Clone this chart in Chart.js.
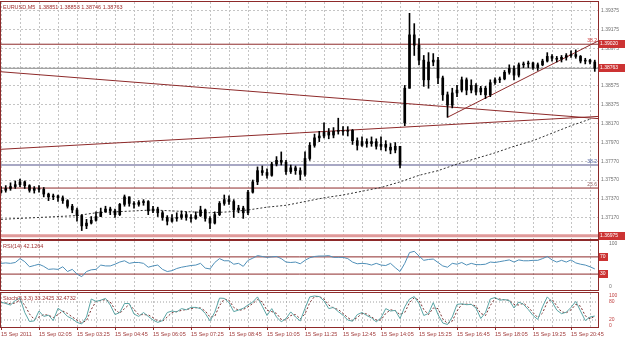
<!DOCTYPE html>
<html>
<head>
<meta charset="utf-8">
<script src="https://cdn.jsdelivr.net/npm/chart.js@4.4.0/dist/chart.umd.min.js"></script>
<style>
  body { margin: 0; background: #fff; width: 625px; height: 342px; overflow: hidden; position: relative; }
  canvas { position: absolute; left: 0; }
</style>
</head>
<body>
<canvas id="priceChart" width="625" height="240" style="top:0"></canvas>
<canvas id="rsiChart" width="625" height="51" style="top:240px"></canvas>
<canvas id="stochChart" width="625" height="51" style="top:291px"></canvas>
<script>
// ---------- datos (EURUSD M5, velas agrupadas de 10 min) ----------
const open = [
  1.3744, 1.3746, 1.3748, 1.3750, 1.3752, 1.3755, 1.3751, 1.3746, 1.3748, 1.3747,
  1.3742, 1.3739, 1.3740, 1.3738, 1.3735, 1.3729, 1.3725, 1.3719, 1.3708, 1.3711,
  1.3714, 1.3718, 1.3723, 1.3726, 1.3724, 1.3720, 1.3731, 1.3739, 1.3732, 1.3731,
  1.3733, 1.3734, 1.3724, 1.3726, 1.3722, 1.3717, 1.3713, 1.3716, 1.3717, 1.3720,
  1.3717, 1.3716, 1.3719, 1.3725, 1.3716, 1.3711, 1.3720, 1.3732, 1.3736, 1.3734,
  1.3725, 1.3727, 1.3722, 1.3744, 1.3755, 1.3767, 1.3765, 1.3762, 1.3774, 1.3778,
  1.3776, 1.3766, 1.3770, 1.3767, 1.3763, 1.3780, 1.3794, 1.3802, 1.3804, 1.3808,
  1.3805, 1.3809, 1.3810, 1.3809, 1.3810, 1.3799, 1.3794, 1.3798, 1.3796, 1.3798,
  1.3793, 1.3795, 1.3792, 1.3789, 1.3793, 1.3818, 1.3855, 1.3912, 1.3901, 1.3885,
  1.3864, 1.3883, 1.3885, 1.3866, 1.3848, 1.3837, 1.3850, 1.3853, 1.3864, 1.3853,
  1.3858, 1.3851, 1.3855, 1.3848, 1.3861, 1.3864, 1.3865, 1.3872, 1.3876, 1.3869,
  1.3880, 1.3881, 1.3882, 1.3877, 1.3880, 1.3884, 1.3889, 1.3887, 1.3886, 1.3888,
  1.3890, 1.3891, 1.3889, 1.3884, 1.3885, 1.3883
]
const high = [
  1.3750, 1.3751, 1.3754, 1.3756, 1.3758, 1.3756, 1.3752, 1.3750, 1.3751, 1.3749,
  1.3743, 1.3742, 1.3741, 1.3740, 1.3736, 1.3731, 1.3727, 1.3720, 1.3715, 1.3718,
  1.3723, 1.3727, 1.3729, 1.3728, 1.3726, 1.3732, 1.3741, 1.3739, 1.3734, 1.3735,
  1.3736, 1.3735, 1.3729, 1.3728, 1.3724, 1.3719, 1.3720, 1.3722, 1.3724, 1.3723,
  1.3720, 1.3723, 1.3729, 1.3726, 1.3718, 1.3723, 1.3734, 1.3741, 1.3740, 1.3736,
  1.3730, 1.3729, 1.3746, 1.3757, 1.3771, 1.3772, 1.3769, 1.3776, 1.3782, 1.3787,
  1.3778, 1.3773, 1.3772, 1.3770, 1.3787, 1.3797, 1.3806, 1.3809, 1.3818, 1.3812,
  1.3813, 1.3823, 1.3814, 1.3814, 1.3811, 1.3802, 1.3803, 1.3801, 1.3803, 1.3801,
  1.3803, 1.3799, 1.3796, 1.3797, 1.3793, 1.3858, 1.3935, 1.3924, 1.3908, 1.3890,
  1.3893, 1.3892, 1.3888, 1.3868, 1.3851, 1.3855, 1.3858, 1.3867, 1.3866, 1.3864,
  1.3860, 1.3857, 1.3857, 1.3864, 1.3866, 1.3867, 1.3874, 1.3880, 1.3879, 1.3882,
  1.3883, 1.3884, 1.3883, 1.3882, 1.3886, 1.3893, 1.3891, 1.3889, 1.3890, 1.3892,
  1.3895, 1.3896, 1.3890, 1.3887, 1.3886, 1.3885
]
const low = [
  1.3743, 1.3744, 1.3746, 1.3748, 1.3750, 1.3748, 1.3744, 1.3743, 1.3744, 1.3739,
  1.3735, 1.3736, 1.3734, 1.3732, 1.3727, 1.3722, 1.3713, 1.3703, 1.3705, 1.3710,
  1.3713, 1.3718, 1.3723, 1.3720, 1.3717, 1.3719, 1.3729, 1.3729, 1.3727, 1.3729,
  1.3730, 1.3720, 1.3722, 1.3718, 1.3714, 1.3709, 1.3712, 1.3713, 1.3715, 1.3714,
  1.3712, 1.3715, 1.3718, 1.3713, 1.3705, 1.3710, 1.3719, 1.3730, 1.3731, 1.3717,
  1.3722, 1.3716, 1.3720, 1.3743, 1.3752, 1.3762, 1.3759, 1.3761, 1.3772, 1.3773,
  1.3763, 1.3764, 1.3763, 1.3757, 1.3761, 1.3778, 1.3792, 1.3798, 1.3802, 1.3801,
  1.3802, 1.3806, 1.3805, 1.3804, 1.3795, 1.3789, 1.3793, 1.3792, 1.3793, 1.3790,
  1.3789, 1.3788, 1.3785, 1.3786, 1.3770, 1.3815, 1.3855, 1.3890, 1.3880, 1.3857,
  1.3855, 1.3879, 1.3860, 1.3842, 1.3824, 1.3834, 1.3846, 1.3851, 1.3848, 1.3850,
  1.3848, 1.3848, 1.3844, 1.3846, 1.3859, 1.3861, 1.3864, 1.3870, 1.3864, 1.3867,
  1.3877, 1.3877, 1.3875, 1.3874, 1.3879, 1.3883, 1.3884, 1.3883, 1.3883, 1.3885,
  1.3888, 1.3887, 1.3882, 1.3881, 1.3881, 1.3873
]
const close = [
  1.3746, 1.3748, 1.3750, 1.3752, 1.3755, 1.3751, 1.3746, 1.3748, 1.3747, 1.3742,
  1.3739, 1.3740, 1.3738, 1.3735, 1.3729, 1.3725, 1.3719, 1.3708, 1.3711, 1.3714,
  1.3718, 1.3723, 1.3726, 1.3724, 1.3720, 1.3731, 1.3739, 1.3732, 1.3731, 1.3733,
  1.3734, 1.3724, 1.3726, 1.3722, 1.3717, 1.3713, 1.3716, 1.3717, 1.3720, 1.3717,
  1.3716, 1.3719, 1.3725, 1.3716, 1.3711, 1.3720, 1.3732, 1.3736, 1.3734, 1.3725,
  1.3727, 1.3722, 1.3744, 1.3755, 1.3767, 1.3765, 1.3762, 1.3774, 1.3778, 1.3776,
  1.3766, 1.3770, 1.3767, 1.3763, 1.3780, 1.3794, 1.3802, 1.3804, 1.3808, 1.3805,
  1.3809, 1.3810, 1.3809, 1.3810, 1.3799, 1.3794, 1.3798, 1.3796, 1.3798, 1.3793,
  1.3795, 1.3792, 1.3789, 1.3793, 1.3773, 1.3855, 1.3912, 1.3901, 1.3885, 1.3864,
  1.3883, 1.3885, 1.3866, 1.3848, 1.3837, 1.3850, 1.3853, 1.3864, 1.3853, 1.3858,
  1.3851, 1.3855, 1.3848, 1.3861, 1.3864, 1.3865, 1.3872, 1.3876, 1.3869, 1.3880,
  1.3881, 1.3882, 1.3877, 1.3880, 1.3884, 1.3889, 1.3887, 1.3886, 1.3888, 1.3890,
  1.3891, 1.3889, 1.3884, 1.3885, 1.3883, 1.38763
]

// media movil punteada (un valor cada 4 velas)
const maValues = [
  1.3715, 1.3716, 1.3717, 1.3718, 1.3719, 1.3722, 1.3723, 1.3724, 1.3725, 1.3724,
  1.3723, 1.3722, 1.3723, 1.3725, 1.3728, 1.3730, 1.3734, 1.3738, 1.3741, 1.3745,
  1.3749, 1.3755, 1.3762, 1.3767, 1.3774, 1.3780, 1.3786, 1.3793, 1.3799, 1.3807,
  1.3815, 1.3822
]

const rsi = [
  55, 56, 55, 57, 66, 59, 47, 50, 53, 48,
  41, 42, 41, 47, 36, 41, 30, 24, 36, 40,
  41, 51, 49, 49, 53, 58, 61, 55, 57, 57,
  55, 46, 49, 51, 41, 36, 38, 43, 46, 48,
  50, 51, 55, 44, 42, 57, 66, 61, 61, 53,
  55, 48, 62, 67, 73, 71, 69, 70, 71, 66,
  58, 57, 58, 54, 62, 68, 71, 72, 72, 73,
  69, 69, 69, 66, 58, 54, 55, 54, 51, 55,
  51, 50, 55, 45, 36, 55, 80, 83, 72, 62,
  64, 65, 57, 49, 46, 55, 53, 57, 51, 55,
  52, 52, 53, 58, 57, 59, 61, 63, 58, 63,
  61, 61, 62, 62, 66, 71, 63, 58, 62, 58,
  63, 56, 53, 51, 47, 42.1264
]

const stochMain = [
  80, 75, 70, 85, 93, 45, 15, 17, 50, 32,
  36, 18, 59, 48, 32, 24, 12, 7, 30, 90,
  82, 86, 92, 70, 38, 45, 75, 75, 40, 32,
  45, 32, 20, 12, 18, 45, 50, 47, 58, 54,
  62, 62, 58, 42, 17, 46, 93, 92, 78, 48,
  53, 59, 70, 80, 97, 66, 35, 58, 30, 14,
  25, 47, 30, 17, 59, 97, 100, 98, 84, 58,
  62, 48, 36, 20, 16, 38, 45, 35, 27, 14,
  27, 58, 50, 52, 25, 64, 90, 98, 75, 35,
  42, 78, 38, 10, 5, 30, 72, 74, 71, 72,
  60, 25, 45, 90, 95, 86, 88, 85, 60, 80,
  72, 55, 35, 22, 64, 97, 81, 53, 41, 46,
  62, 82, 50, 18, 30, 33.2425
]
const stochSignal = [
  78, 77, 74, 77, 85, 70, 40, 22, 30, 38,
  36, 28, 38, 50, 42, 30, 20, 11, 18, 55,
  82, 85, 88, 80, 55, 42, 58, 72, 55, 38,
  38, 37, 28, 17, 16, 30, 45, 48, 52, 55,
  58, 61, 60, 50, 30, 32, 68, 90, 86, 62,
  52, 55, 64, 75, 88, 80, 52, 48, 42, 22,
  20, 35, 38, 24, 40, 78, 98, 98, 90, 70,
  60, 55, 42, 28, 18, 28, 42, 40, 30, 20,
  20, 42, 54, 51, 38, 45, 78, 94, 86, 55,
  38, 60, 58, 24, 8, 16, 50, 72, 73, 72,
  66, 42, 35, 68, 92, 90, 87, 86, 72, 70,
  76, 63, 45, 28, 43, 80, 89, 67, 47, 44,
  54, 72, 66, 34, 24, 32.4732
]

// etiquetas de tiempo (una cada 8 velas) y del eje de precios
const timeLabels = [
  "15 Sep 2011", "15 Sep 02:05", "15 Sep 03:25", "15 Sep 04:45", "15 Sep 06:05",
  "15 Sep 07:25", "15 Sep 08:45", "15 Sep 10:05", "15 Sep 11:25", "15 Sep 12:45",
  "15 Sep 14:05", "15 Sep 15:25", "15 Sep 16:45", "15 Sep 18:05", "15 Sep 19:25",
  "15 Sep 20:45"
]
const priceTicks = [1.39375, 1.39175, 1.38975, 1.38775, 1.38575, 1.38375, 1.38170, 1.37970, 1.37770, 1.37570, 1.37370, 1.37170]
const priceTickLabels = ["1.39375", "1.39175", "1.38975", "1.38775", "1.38575", "1.38375", "1.38170", "1.37970", "1.37770", "1.37570", "1.37370", "1.37170"]

// objetos dibujados (precio al borde izquierdo / derecho)
const lineaBajista = [1.38726, 1.38226]
const lineaAlcista = [1.37898, 1.38249]
const canalInicio = 94, canalPrecios = [1.3824, 1.39054]
const nivelMax = 1.39020, bid = 1.38763, nivelMin = 1.36975
const fibo382 = 1.37730, fibo236 = 1.37484
const rsiLevels = [70, 30]
const stochLevels = [80, 20]

const simbolo = "EURUSD,M5"
const ultimaBarra = ["1.38851", "1.38853", "1.38746", "1.38763"]
const rsiTexto = "RSI(14) 42.1264"
const stochTexto = "Stoch(5,3,3) 33.2425 32.4732"

// ---------- estilos ----------
const FONT = "'Liberation Sans', Arial, sans-serif"
const MARRON = "#8e2a2a"
const ROJO = "#cc3333"
const GRID = "#c4c4c4"
const X_MAX = 125.68
const gridIdx = []
for (let i = 0; i <= 124; i += 4) gridIdx.push(i)

function hLine(value, color, width, dash) {
  return {
    type: "line",
    data: [{x: 0, y: value}, {x: X_MAX, y: value}],
    borderColor: color, borderWidth: width, borderDash: dash || [],
    pointRadius: 0, order: 3
  }
}

function noPadding(s) {
  s.paddingTop = 0
  s.paddingBottom = 0
  s.paddingLeft = 0
  s.paddingRight = 0
}

function xScale(showLabels) {
  return {
    type: "linear", min: 0, max: X_MAX, offset: false,
    afterBuildTicks: s => { s.ticks = gridIdx.map(v => ({value: v})) },
    afterFit: s => { s.height = showLabels ? 15 : 0; noPadding(s) },
    ticks: {
      display: showLabels, autoSkip: false, maxRotation: 0, align: "start", padding: 1,
      font: {family: FONT, size: 5.5}, color: "#a03a3a",
      callback: v => (v % 8 === 0 ? timeLabels[v / 8] : "")
    },
    grid: {
      color: GRID, drawTicks: showLabels, tickLength: 3, offset: false,
      tickColor: ctx => (ctx.tick && ctx.tick.value % 8 === 0 ? MARRON : "rgba(0,0,0,0)")
    },
    border: {display: false, dash: [2, 2]}
  }
}

function yScale(min, max, ticks, extra) {
  return Object.assign({
    position: "right", min: min, max: max,
    afterBuildTicks: s => { s.ticks = ticks.map(v => ({value: v})) },
    afterFit: s => { s.width = 27; noPadding(s) },
    grid: {display: false},
    border: {display: false}
  }, extra)
}

function drawTag(ctx, text, x, y, w) {
  ctx.fillStyle = ROJO
  ctx.fillRect(x, Math.round(y) - 4, w, 8)
  ctx.fillStyle = "#fff"
  ctx.textAlign = "left"
  ctx.textBaseline = "middle"
  ctx.fillText(text, x + 1, Math.round(y))
}

function drawFrame(ctx, a) {
  ctx.strokeStyle = MARRON
  ctx.lineWidth = 1
  ctx.strokeRect(a.left - 0.5, a.top - 0.5, a.right - a.left + 1, a.bottom - a.top + 1)
}

const baseOpts = {
  responsive: false, animation: false, events: [],
  plugins: {legend: {display: false}, tooltip: {enabled: false}}
}

// ---------- grafico de precios ----------
const priceOverlay = {
  id: "priceOverlay",
  afterDraw(chart) {
    const {ctx, chartArea: a, scales: {y}} = chart
    ctx.save()
    drawFrame(ctx, a)
    ctx.font = "5.5px " + FONT
    ctx.fillStyle = "#a03030"
    ctx.textBaseline = "middle"
    ctx.fillText(simbolo + "  " + ultimaBarra.join(" "), a.left + 2, a.top + 5)
    ctx.font = "5px " + FONT
    ctx.textAlign = "right"
    ctx.fillStyle = "#5060a0"
    ctx.fillText("38.2", a.right - 1, y.getPixelForValue(fibo382) - 3)
    ctx.fillStyle = "#906060"
    ctx.fillText("23.6", a.right - 1, y.getPixelForValue(fibo236) - 3)
    ctx.fillStyle = ROJO
    ctx.fillText("38.2", a.right - 1, y.getPixelForValue(canalPrecios[1]))
    drawTag(ctx, "1.39020", a.right + 1, y.getPixelForValue(nivelMax), 26)
    drawTag(ctx, "1.38763", a.right + 1, y.getPixelForValue(bid), 26)
    drawTag(ctx, "1.36975", a.right + 1, y.getPixelForValue(nivelMin), 26)
    ctx.restore()
  }
}

new Chart(document.getElementById("priceChart"), {
  type: "bar",
  data: {
    datasets: [
      {
        data: low.map((l, i) => ({x: i, y: [l, high[i]]})),
        backgroundColor: "#000", barThickness: 1, grouped: false, order: 1
      },
      {
        data: open.map((o, i) => ({x: i, y: [o, close[i]]})),
        backgroundColor: "#000",
        borderColor: "#000", borderWidth: 0,
        barThickness: 2, grouped: false, order: 0
      },
      {
        type: "line",
        data: maValues.map((v, k) => ({x: k * 4, y: v})),
        borderColor: "#333", borderWidth: 1, borderDash: [2, 2], pointRadius: 0, order: 2
      },
      {
        type: "line",
        data: [{x: 0, y: lineaBajista[0]}, {x: X_MAX, y: lineaBajista[1]}],
        borderColor: MARRON, borderWidth: 1, pointRadius: 0, order: 2
      },
      {
        type: "line",
        data: [{x: 0, y: lineaAlcista[0]}, {x: X_MAX, y: lineaAlcista[1]}],
        borderColor: MARRON, borderWidth: 1, pointRadius: 0, order: 2
      },
      {
        type: "line",
        data: [{x: canalInicio, y: canalPrecios[0]}, {x: X_MAX, y: canalPrecios[1]}],
        borderColor: MARRON, borderWidth: 1, pointRadius: 0, order: 2
      },
      hLine(nivelMax, MARRON, 1),
      hLine(bid, "#8a8a8a", 1),
      hLine(fibo382, "#a8a8c4", 2),
      hLine(fibo236, MARRON, 1),
      hLine(nivelMin, "#e09a9a", 3)
    ]
  },
  options: {
    ...baseOpts,
    layout: {padding: {left: 1, top: 2, right: 0, bottom: 1}},
    scales: {
      x: xScale(false),
      y: yScale(1.36940, 1.39471, priceTicks, {
        ticks: {
          autoSkip: false, padding: 3, font: {family: FONT, size: 5}, color: "#707070",
          callback: (v, i) => priceTickLabels[i]
        },
        grid: {color: GRID, drawTicks: false},
        border: {display: false, dash: [2, 2]}
      })
    }
  },
  plugins: [priceOverlay]
})

// ---------- RSI ----------
const rsiOverlay = {
  id: "rsiOverlay",
  afterDraw(chart) {
    const {ctx, chartArea: a, scales: {y}} = chart
    ctx.save()
    drawFrame(ctx, a)
    ctx.font = "5.5px " + FONT
    ctx.fillStyle = "#a03030"
    ctx.textBaseline = "middle"
    ctx.fillText(rsiTexto, a.left + 2, a.top + 5)
    ctx.font = "5px " + FONT
    rsiLevels.forEach(l => drawTag(ctx, String(l), a.right + 1, y.getPixelForValue(l), 9))
    ctx.restore()
  }
}

new Chart(document.getElementById("rsiChart"), {
  type: "line",
  data: {
    datasets: [
      {
        data: rsi.map((v, i) => ({x: i, y: v})),
        borderColor: "#4f8fb8", borderWidth: 1, pointRadius: 0, order: 0
      },
      ...rsiLevels.map(l => hLine(l, MARRON, 1))
    ]
  },
  options: {
    ...baseOpts,
    layout: {padding: {left: 1, top: 1, right: 0, bottom: 1}},
    scales: {
      x: xScale(false),
      y: yScale(-7, 107, [100, 0], {
        ticks: {autoSkip: false, padding: 3, font: {family: FONT, size: 5}, color: "#707070"}
      })
    }
  },
  plugins: [rsiOverlay]
})

// ---------- Estocastico ----------
const stochOverlay = {
  id: "stochOverlay",
  afterDraw(chart) {
    const {ctx, chartArea: a} = chart
    ctx.save()
    drawFrame(ctx, a)
    ctx.font = "5.5px " + FONT
    ctx.fillStyle = "#a03030"
    ctx.textBaseline = "middle"
    ctx.fillText(stochTexto, a.left + 2, a.top + 5)
    ctx.restore()
  }
}

new Chart(document.getElementById("stochChart"), {
  type: "line",
  data: {
    datasets: [
      {
        data: stochMain.map((v, i) => ({x: i, y: v})),
        borderColor: "#5aa5a5", borderWidth: 1, pointRadius: 0, order: 0
      },
      {
        data: stochSignal.map((v, i) => ({x: i, y: v})),
        borderColor: "#7a3030", borderWidth: 1, borderDash: [2, 2], pointRadius: 0, order: 1
      },
      ...stochLevels.map(l => hLine(l, "#a0a0a0", 1, [1, 2]))
    ]
  },
  options: {
    ...baseOpts,
    layout: {padding: {left: 1, top: 2, right: 0, bottom: 0}},
    scales: {
      x: xScale(true),
      y: yScale(-3.33, 110, [100, 80, 20, 0], {
        ticks: {autoSkip: false, padding: 3, font: {family: FONT, size: 5}, color: "#c04040"}
      })
    }
  },
  plugins: [stochOverlay]
})
</script>
</body>
</html>
